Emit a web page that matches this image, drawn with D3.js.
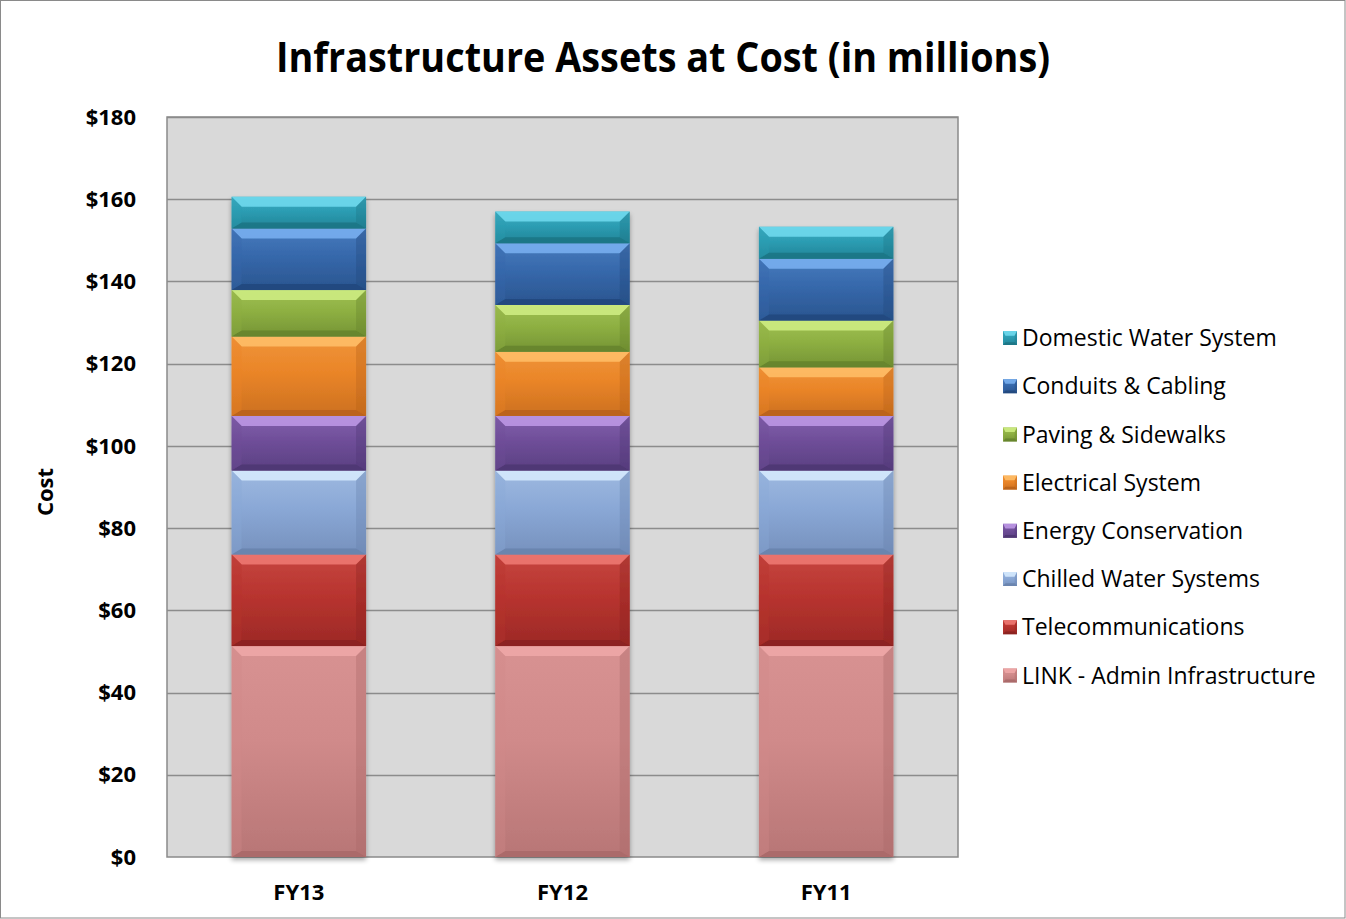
<!DOCTYPE html>
<html><head><meta charset="utf-8">
<script src="https://cdn.jsdelivr.net/npm/d3@7/dist/d3.min.js"></script>
<style>html,body{margin:0;padding:0;background:#fff;}svg{display:block;font-family:"Open Sans",sans-serif;}</style>
</head><body>
<script>
const categories = ["FY13", "FY12", "FY11"];
const seriesNames = ["LINK - Admin Infrastructure", "Telecommunications", "Chilled Water Systems", "Energy Conservation", "Electrical System", "Paving & Sidewalks", "Conduits & Cabling", "Domestic Water System"];
const linkAdmin   = [51.3, 51.3, 51.3];
const telecom     = [22.3, 22.3, 22.3];
const chilled     = [20.4, 20.4, 20.4];
const energy      = [13.3, 13.3, 13.3];
const electrical  = [19.3, 15.6, 11.8];
const paving      = [11.3, 11.4, 11.4];
const conduits    = [15.0, 15.0, 15.0];
const domestic    = [7.7, 7.7, 7.8];
const yTicks = [0, 20, 40, 60, 80, 100, 120, 140, 160, 180];
const seriesValues = [linkAdmin, telecom, chilled, energy, electrical, paving, conduits, domestic];
// colours: [top light, main, bottom dark]
const palette = [
  ["#f0a8a8", "#d08a8a", "#a86868"],
  ["#f07a74", "#b8342f", "#8a2220"],
  ["#d8ecff", "#8aa8d6", "#6882ac"],
  ["#c09ae8", "#6f4e99", "#4e3672"],
  ["#ffbf6a", "#ea8528", "#b8621a"],
  ["#d0ee84", "#8eb042", "#64822c"],
  ["#7ab2f2", "#3668ab", "#22487c"],
  ["#72dcf0", "#2c9db3", "#1c7484"]
];

const W = 1346, H = 919;
const plot = {l: 167, r: 958, t: 117, b: 857};
const svg = d3.select("body").append("svg").attr("width", W).attr("height", H);
const defs = svg.append("defs");

// outer border
svg.append("rect").attr("x", 0.5).attr("y", 0.5).attr("width", W - 1.5).attr("height", H - 1.5)
  .attr("fill", "#fff").attr("stroke", "#8a8a8a").attr("stroke-width", 1);

// title
svg.append("text").attr("x", 663).attr("y", 72).attr("text-anchor", "middle")
  .attr("font-size", 41).attr("font-weight", 700).attr("fill", "#000")
  .attr("textLength", 774).attr("lengthAdjust", "spacingAndGlyphs")
  .text("Infrastructure Assets at Cost (in millions)");

const x = d3.scaleBand().domain(categories).range([plot.l, plot.r]).paddingInner(0.49).paddingOuter(0.245);
const y = d3.scaleLinear().domain([0, 180]).range([plot.b, plot.t]);

// plot area background
svg.append("rect").attr("x", plot.l).attr("y", plot.t).attr("width", plot.r - plot.l).attr("height", plot.b - plot.t)
  .attr("fill", "#d9d9d9");

// gridlines
svg.append("g").selectAll("line").data(yTicks.filter(d => d > 0)).join("line")
  .attr("x1", plot.l).attr("x2", plot.r).attr("y1", d => Math.round(y(d)) + 0.5).attr("y2", d => Math.round(y(d)) + 0.5)
  .attr("stroke", "#8c8c8c").attr("stroke-width", 1.3);

// plot border
svg.append("rect").attr("x", plot.l).attr("y", plot.t).attr("width", plot.r - plot.l).attr("height", plot.b - plot.t)
  .attr("fill", "none").attr("stroke", "#8a8a8a").attr("stroke-width", 1.5);

// gradients
palette.forEach((c, i) => {
  const g = defs.append("linearGradient").attr("id", "g" + i).attr("x1", 0).attr("y1", 0).attr("x2", 0).attr("y2", 1);
  g.append("stop").attr("offset", "0%").attr("stop-color", d3.interpolateRgb(c[1], c[0])(0.25));
  g.append("stop").attr("offset", "45%").attr("stop-color", c[1]);
  g.append("stop").attr("offset", "100%").attr("stop-color", d3.interpolateRgb(c[1], c[2])(0.6));
});
const shadow = defs.append("filter").attr("id", "sh").attr("x", "-10%").attr("y", "-10%").attr("width", "130%").attr("height", "130%");
shadow.append("feGaussianBlur").attr("in", "SourceAlpha").attr("stdDeviation", 2.5);
shadow.append("feOffset").attr("dx", 0).attr("dy", 3).attr("result", "b");
shadow.append("feComponentTransfer").append("feFuncA").attr("type", "linear").attr("slope", 0.35);
const fm = shadow.append("feMerge"); fm.append("feMergeNode"); fm.append("feMergeNode").attr("in", "SourceGraphic");

// stack
const rows = categories.map((c, j) => {
  const o = {cat: c};
  seriesNames.forEach((s, i) => o[s] = seriesValues[i][j]);
  return o;
});
const stacked = d3.stack().keys(seriesNames)(rows);

function bevel(g, x0, x1, y0, y1, c) {
  const h = y1 - y0, b = Math.min(10, h / 3), bs = Math.min(10, (x1 - x0) / 6);
  g.append("rect").attr("x", x0).attr("y", y0).attr("width", x1 - x0).attr("height", h).attr("fill", c.grad);
  // top bevel
  g.append("path").attr("d", `M${x0},${y0}L${x1},${y0}L${x1 - bs},${y0 + b}L${x0 + bs},${y0 + b}Z`)
    .attr("fill", c.top).attr("opacity", 0.85);
  // bottom bevel
  g.append("path").attr("d", `M${x0},${y1}L${x1},${y1}L${x1 - bs},${y1 - b * 0.6}L${x0 + bs},${y1 - b * 0.6}Z`)
    .attr("fill", c.bot).attr("opacity", 0.85);
  // left bevel
  g.append("path").attr("d", `M${x0},${y0}L${x0 + bs},${y0 + b}L${x0 + bs},${y1 - b * 0.6}L${x0},${y1}Z`)
    .attr("fill", c.side).attr("opacity", 0.35);
  // right bevel
  g.append("path").attr("d", `M${x1},${y0}L${x1 - bs},${y0 + b}L${x1 - bs},${y1 - b * 0.6}L${x1},${y1}Z`)
    .attr("fill", c.bot).attr("opacity", 0.35);
}

const barsG = svg.append("g");
categories.forEach((cat, j) => {
  const bg = barsG.append("g").attr("filter", "url(#sh)");
  stacked.forEach((layer, i) => {
    const d = layer[j];
    const c = palette[i];
    bevel(bg, x(cat), x(cat) + x.bandwidth(), y(d[1]), y(d[0]),
      {grad: `url(#g${i})`, top: c[0], bot: c[2], side: c[1]});
  });
});

// y axis labels
svg.append("g").selectAll("text").data(yTicks).join("text")
  .attr("x", 136).attr("y", d => y(d)).attr("dy", "0.35em").attr("text-anchor", "end")
  .attr("font-size", 22).attr("font-weight", 700).attr("fill", "#000")
  .text(d => "$" + d);

// x axis labels
svg.append("g").selectAll("text").data(categories).join("text")
  .attr("x", d => x(d) + x.bandwidth() / 2).attr("y", 900).attr("text-anchor", "middle")
  .attr("font-size", 22).attr("font-weight", 700).attr("fill", "#000")
  .text(d => d);

// y title
svg.append("text").attr("transform", "translate(53,492) rotate(-90)").attr("text-anchor", "middle")
  .attr("font-size", 22).attr("font-weight", 700).attr("fill", "#000").text("Cost");

// legend
const legendOrder = seriesNames.map((s, i) => i).reverse();
const lg = svg.append("g");
legendOrder.forEach((i, k) => {
  const cy = 338 + k * 48.2;
  const c = palette[i];
  const g = lg.append("g");
  bevel(g, 1003, 1017, cy - 7, cy + 7, {grad: `url(#g${i})`, top: c[0], bot: c[2], side: c[1]});
  g.append("text").attr("x", 1022).attr("y", cy).attr("dy", "0.36em")
    .attr("font-size", 23).attr("fill", "#000").text(seriesNames[i]);
});
</script>
</body></html>
